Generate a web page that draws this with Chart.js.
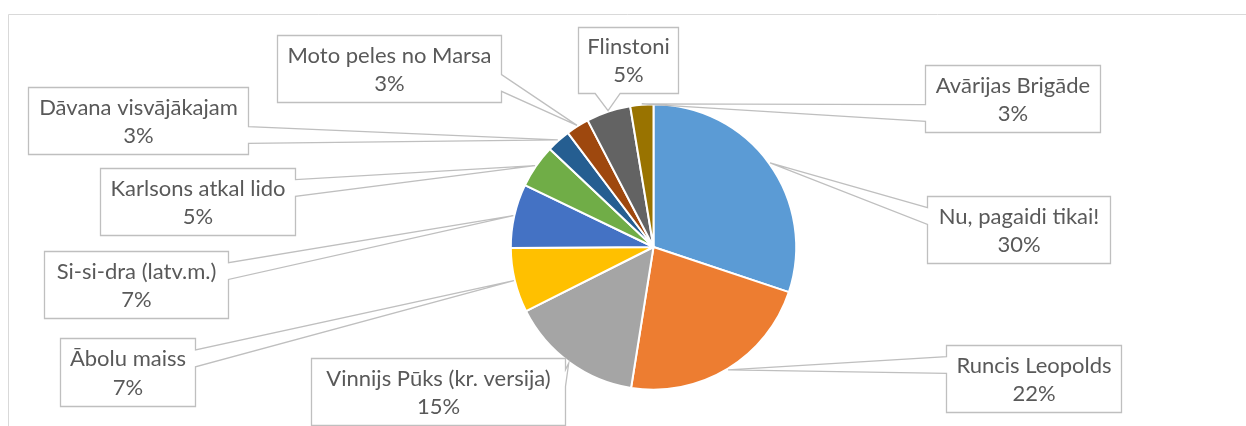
<!DOCTYPE html>
<html><head><meta charset="utf-8">
<script src="https://cdn.jsdelivr.net/npm/chart.js@4.4.0/dist/chart.umd.min.js"></script>
<style>html,body{margin:0;padding:0;background:#fff;overflow:hidden}canvas{display:block}</style>
</head><body>
<canvas id="c" width="1246" height="426"></canvas>
<script>
// ---- data ----
const categories = ["Nu, pagaidi tikai!", "Runcis Leopolds", "Vinnijs Pūks (kr. versija)", "Ābolu maiss",
  "Si-si-dra (latv.m.)", "Karlsons atkal lido", "Dāvana visvājākajam", "Moto peles no Marsa", "Flinstoni", "Avārijas Brigāde"];
const shares = [30.0, 22.3, 15.0, 7.3, 7.2, 4.9, 2.7, 2.6, 5.0, 2.6];
const sliceColors = ["#5B9BD5", "#ED7D31", "#A5A5A5", "#FFC000", "#4472C4", "#70AD47", "#255E91", "#9E480E", "#636363", "#997300"];

// ---- callout layout (box offsets from pie centre, box size, side of the pointer) ----
const calloutLayout = [
  {dx: 273.5, dy: -51, w: 183, h: 67, side: "L"},
  {dx: 292.5, dy: 98, w: 175, h: 67, side: "L"},
  {dx: -342.5, dy: 111, w: 254, h: 67, side: "R"},
  {dx: -593.5, dy: 91, w: 135, h: 68, side: "R"},
  {dx: -609.5, dy: 4, w: 184, h: 67, side: "R"},
  {dx: -553.5, dy: -79, w: 195, h: 67, side: "R"},
  {dx: -625.5, dy: -160, w: 220, h: 67, side: "R"},
  {dx: -376.5, dy: -212, w: 224, h: 67, side: "R"},
  {dx: -75.5, dy: -220, w: 100, h: 66, side: "B"},
  {dx: 271.5, dy: -182, w: 175, h: 67, side: "L"}
];

const FONT = '22px Lato, "Open Sans", sans-serif';
const TEXT_COLOR = '#595959';
const LINE_COLOR = '#BFBFBF';

const framePlugin = {
  id: 'frame',
  beforeDraw(chart) {
    const ctx = chart.ctx;
    ctx.save();
    ctx.fillStyle = '#fff';
    ctx.fillRect(0, 0, chart.width, chart.height);
    ctx.strokeStyle = '#D9D9D9';
    ctx.lineWidth = 1;
    ctx.beginPath();
    ctx.moveTo(8.5, chart.height + 2);
    ctx.lineTo(8.5, 14.5);
    ctx.lineTo(chart.width + 2, 14.5);
    ctx.stroke();
    ctx.restore();
  }
};

const calloutPlugin = {
  id: 'callouts',
  afterDatasetsDraw(chart) {
    const ctx = chart.ctx;
    const meta = chart.getDatasetMeta(0);
    const data = chart.data.datasets[0].data;
    const total = data.reduce((a, b) => a + b, 0);
    ctx.save();
    meta.data.forEach((arc, i) => {
      const L = calloutLayout[i];
      const p = arc.getProps(['x', 'y', 'startAngle', 'endAngle', 'outerRadius'], true);
      const mid = (p.startAngle + p.endAngle) / 2;
      const R = p.outerRadius + 1;
      const tx = p.x + Math.cos(mid) * R;
      const ty = p.y + Math.sin(mid) * R;
      const l = Math.round(p.x + L.dx) + 0.5, t = Math.round(p.y + L.dy) + 0.5;
      const r = l + L.w, b = t + L.h;
      const cx = (l + r) / 2, cy = (t + b) / 2;
      const g1y = t + L.h * (ty > cy ? 7 : 2) / 12, g2y = t + L.h * (ty > cy ? 10 : 5) / 12;
      const g1x = l + L.w * (tx > cx ? 7 : 2) / 12, g2x = l + L.w * (tx > cx ? 10 : 5) / 12;
      ctx.beginPath();
      ctx.moveTo(l, t);
      if (L.side === 'T') { ctx.lineTo(g1x, t); ctx.lineTo(tx, ty); ctx.lineTo(g2x, t); }
      ctx.lineTo(r, t);
      if (L.side === 'R') { ctx.lineTo(r, g1y); ctx.lineTo(tx, ty); ctx.lineTo(r, g2y); }
      ctx.lineTo(r, b);
      if (L.side === 'B') { ctx.lineTo(g2x, b); ctx.lineTo(tx, ty); ctx.lineTo(g1x, b); }
      ctx.lineTo(l, b);
      if (L.side === 'L') { ctx.lineTo(l, g2y); ctx.lineTo(tx, ty); ctx.lineTo(l, g1y); }
      ctx.closePath();
      ctx.fillStyle = '#fff';
      ctx.fill();
      ctx.strokeStyle = LINE_COLOR;
      ctx.lineWidth = 1.3;
      ctx.lineJoin = 'miter';
      ctx.stroke();
      ctx.fillStyle = TEXT_COLOR;
      ctx.font = FONT;
      ctx.textAlign = 'center';
      ctx.textBaseline = 'middle';
      const label = chart.data.labels[i];
      const pct = Math.round(data[i] / total * 100) + '%';
      ctx.fillText(label, cx, t + L.h * 0.30);
      ctx.fillText(pct, cx, t + L.h * 0.72);
    });
    ctx.restore();
  }
};

new Chart(document.getElementById('c'), {
  type: 'pie',
  data: {
    labels: categories,
    datasets: [{
      data: shares,
      backgroundColor: sliceColors,
      borderColor: '#FFFFFF',
      borderWidth: 2
    }]
  },
  options: {
    responsive: false,
    animation: false,
    layout: {padding: {top: 103.3, bottom: 35.3, left: 453.5, right: 392.5}},
    plugins: {legend: {display: false}, tooltip: {enabled: false}}
  },
  plugins: [framePlugin, calloutPlugin]
});
</script>
</body></html>
